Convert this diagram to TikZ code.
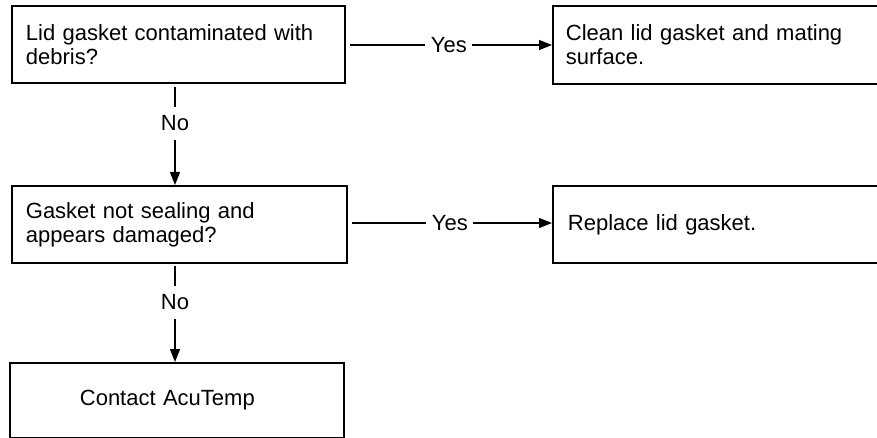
\documentclass[tikz,border=0pt]{standalone}
\usepackage{fontspec}
\setmainfont{Liberation Sans}
\usetikzlibrary{arrows.meta}
\begin{document}
\begin{tikzpicture}[x=1pt,y=-1pt,
  every node/.style={font=\fontsize{22}{24}\selectfont},
  stepbox/.style={draw=black, line width=1.8pt, rectangle, anchor=north west,
    align=left, inner ysep=0pt},
  conn/.style={draw=black, line width=1.3pt, -{Triangle[length=13pt,width=10pt]}},
  lbl/.style={fill=white, inner xsep=5.5pt, inner ysep=9pt, text height=15pt, text depth=0pt}
]
\fill[white] (0,0) rectangle (877,438);
\clip (0,0) rectangle (877,438);
\node[stepbox, minimum width=333pt, minimum height=77pt, inner xsep=14pt, text width=305pt] (b1) at (11,5)
  {Lid gasket contaminated with\\debris?};
\node[stepbox, minimum width=333pt, minimum height=78pt, inner xsep=13pt, text width=307pt] (b2) at (552,5)
  {Clean lid gasket and mating\\surface.};
\node[stepbox, minimum width=335pt, minimum height=77pt, inner xsep=14pt, text width=307pt] (b3) at (11,185)
  {Gasket not sealing and\\appears damaged?};
\node[stepbox, minimum width=333pt, minimum height=77pt, inner xsep=15pt, text width=303pt] (b4) at (552,185)
  {Replace lid gasket.};
\node[stepbox, minimum width=334pt, minimum height=75pt, inner xsep=70pt, text width=194pt] (b5) at (9,362)
  {Contact AcuTemp};
\coordinate (v1a) at (175,82);
\coordinate (v1b) at (175,185);
\coordinate (v2a) at (175,262);
\coordinate (v2b) at (175,362);
\draw[conn, shorten <=5pt] (v1a) -- node[lbl, pos=0.4] {No} (v1b);
\draw[conn, shorten <=4pt] (v2a) -- node[lbl, pos=0.4] {No} (v2b);
\draw[conn, shorten <=4pt] (b1.east |- 0,45) -- node[lbl, pos=0.5] {Yes} (b2.west |- 0,45);
\draw[conn, shorten <=4pt] (b3.east |- 0,223) -- node[lbl, pos=0.5] {Yes} (b4.west |- 0,223);
\end{tikzpicture}
\end{document}
